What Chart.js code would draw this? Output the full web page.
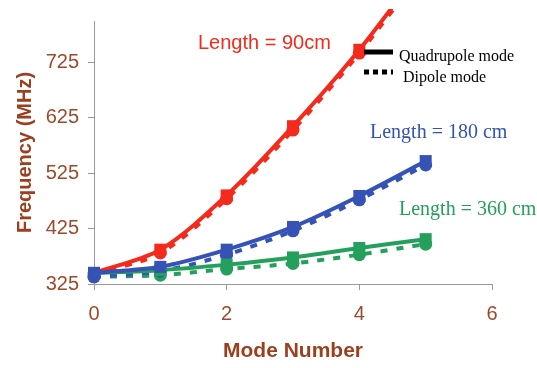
<!DOCTYPE html>
<html><head><meta charset="utf-8">
<script src="https://cdn.jsdelivr.net/npm/chart.js@4"></script>
<style>html,body{margin:0;padding:0;background:#fff}#wrap{width:537px;height:368px}</style>
</head><body><div id="wrap"><canvas id="c" width="537" height="368"></canvas></div>
<script>
const modes = [0, 1, 2, 3, 4, 5];
const red_quad   = [345, 387, 485, 610, 748, 905];
const red_dip    = [343, 381, 479, 603, 742, 898];
const blue_quad  = [345, 356, 387, 428, 484, 547];
const blue_dip   = [338, 348, 378, 421, 477, 540];
const green_quad = [345, 350, 360, 373, 390, 406];
const green_dip  = [338, 341, 352, 362, 378, 397];
const yTicks = [325, 425, 525, 625, 725];
const xTicks = [0, 2, 4, 6];

const RED = '#F42B1C', BLUE = '#3453B4', GREEN = '#24A05C';
const pts = arr => modes.map((m, i) => ({x: m, y: arr[i]}));
const clip = {left: 10, top: 12, right: 10, bottom: 10};
function ds(label, data, color, dashed, order) {
  return {label, data: pts(data), borderColor: color, backgroundColor: color,
    borderWidth: 4, borderDash: dashed ? [7, 9] : [], tension: 0.3,
    pointStyle: dashed ? 'circle' : 'rect', pointRadius: dashed ? 6.5 : 8.5,
    pointBorderWidth: 0, clip, order};
}
const labelsPlugin = {
  id: 'labels',
  afterDraw(chart) {
    const ctx = chart.ctx;
    ctx.save();
    ctx.textBaseline = 'middle';
    ctx.fillStyle = RED; ctx.font = '20px "Liberation Sans", Arial';
    ctx.fillText('Length = 90cm', 198, 43);
    ctx.fillStyle = BLUE; ctx.font = '20px "Liberation Serif", "Times New Roman"';
    ctx.fillText('Length = 180 cm', 370, 133);
    ctx.fillStyle = GREEN;
    ctx.fillText('Length = 360 cm', 399, 210);
    // legend
    ctx.fillStyle = '#000'; ctx.strokeStyle = '#000';
    ctx.font = '16px "Liberation Serif", "Times New Roman"';
    ctx.fillText('Quadrupole mode', 399, 57);
    ctx.fillText('Dipole mode', 403, 78);
    ctx.lineWidth = 5;
    ctx.beginPath(); ctx.moveTo(364, 52); ctx.lineTo(393, 52); ctx.stroke();
    ctx.setLineDash([5, 4]);
    ctx.beginPath(); ctx.moveTo(364, 72); ctx.lineTo(393, 72); ctx.stroke();
    ctx.restore();
  }
};
new Chart(document.getElementById('c'), {
  type: 'line',
  data: {datasets: [
    ds('Blue quad', blue_quad, BLUE, false, 1),
    ds('Green quad', green_quad, GREEN, false, 3),
    ds('Red quad', red_quad, RED, false, 2),
    ds('Blue dip', blue_dip, BLUE, true, 4),
    ds('Green dip', green_dip, GREEN, true, 6),
    ds('Red dip', red_dip, RED, true, 5),
  ]},
  options: {
    responsive: false, animation: false,
    layout: {padding: {top: 12, right: 45, left: 0, bottom: 0}},
    plugins: {legend: {display: false}, tooltip: {enabled: false}},
    scales: {
      x: {type: 'linear', min: 0, max: 6,
        afterBuildTicks: s => { s.ticks = xTicks.map(v => ({value: v})); },
        afterFit: s => { s.height = 84; },
        border: {color: '#999', width: 1},
        grid: {drawOnChartArea: false, drawTicks: true, tickLength: 6, color: '#999'},
        ticks: {color: '#9B4A2B', font: {family: '"Liberation Sans", Arial', size: 20}, padding: 12, maxRotation: 0},
        title: {display: true, text: 'Mode Number', color: '#9B3F1E',
          font: {family: '"Liberation Sans", Arial', size: 21, weight: 'bold'}, padding: {top: 10}}
      },
      y: {min: 325, max: 800,
        afterBuildTicks: s => { s.ticks = yTicks.map(v => ({value: v})); },
        afterFit: s => { s.width = 94; },
        border: {color: '#999', width: 1},
        grid: {drawOnChartArea: false, drawTicks: true, tickLength: 6, color: '#999'},
        ticks: {color: '#9B4A2B', font: {family: '"Liberation Sans", Arial', size: 20}, padding: 9},
        title: {display: true, text: 'Frequency (MHz)', color: '#9B3F1E',
          font: {family: '"Liberation Sans", Arial', size: 20, weight: 'bold'}, padding: {top: 13}}
      }
    }
  },
  plugins: [labelsPlugin]
});
</script></body></html>
